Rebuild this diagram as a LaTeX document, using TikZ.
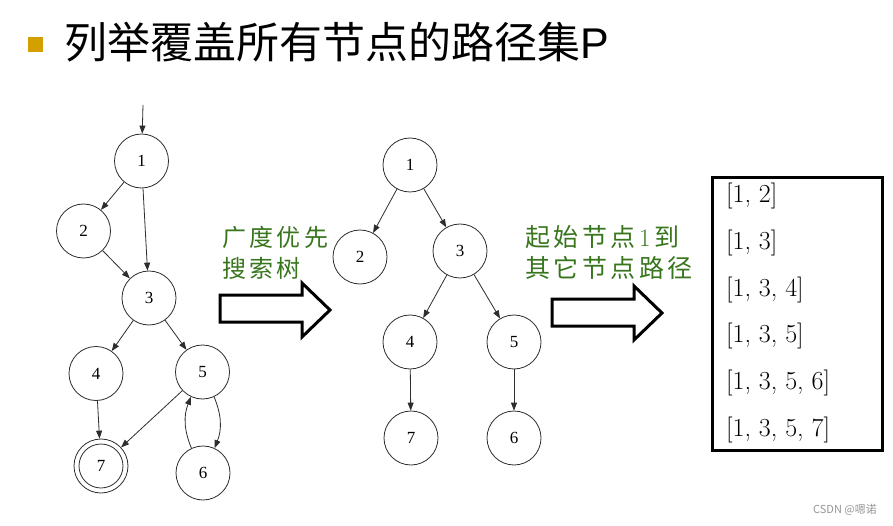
\documentclass[tikz,border=0pt]{standalone}
\usepackage{fontspec}
\usetikzlibrary{arrows.meta}
\newfontfamily\cjk{Noto Sans CJK SC}
\newfontfamily\arialf{Liberation Sans}
\newfontfamily\tnr{Liberation Serif}
\definecolor{bulletgold}{RGB}{212,160,0}
\definecolor{txtgreen}{RGB}{56,118,29}
\definecolor{edgegray}{RGB}{45,45,45}
\definecolor{wmgray}{RGB}{150,150,150}
\ExplSyntaxOn
\NewDocumentCommand \spacedtext { m m }
  {
    \bool_set_true:N \l_tmpa_bool
    \tl_map_inline:nn { #2 }
      {
        \bool_if:NF \l_tmpa_bool { \hspace{#1} }
        \bool_set_false:N \l_tmpa_bool
        ##1
      }
  }
\ExplSyntaxOff
\begin{document}
\begin{tikzpicture}[x=1pt,y=-1pt,
  gnode/.style={circle,draw=edgegray,line width=0.8pt,minimum size=54pt,inner sep=0pt,
    font=\tnr\fontsize{17}{17}\selectfont},
  garrow/.style={draw=edgegray,line width=0.8pt,-{Triangle[length=8pt,width=6pt]}},
  hollow/.style={draw=black,line width=3pt,fill=white,line join=miter},
  greentxt/.style={anchor=west,inner sep=0pt,text=txtgreen},
  pathitem/.style={anchor=west,inner sep=0pt,font=\fontsize{26}{26}\selectfont}]
\useasboundingbox (0,0) rectangle (893,526);
\fill[white] (0,0) rectangle (893,526);

% title
\node[fill=bulletgold,minimum size=15pt,inner sep=0pt] (bullet) at (35,45) {};
\node[anchor=west,inner sep=0pt,font=\cjk\fontsize{43}{43}\selectfont] (title) at (64,42)
  {列举覆盖所有节点的路径集{\arialf P}};

% left graph
\coordinate (entry) at (143,105);
\node[gnode] (a1) at (141.5,161) {1};
\node[gnode] (a2) at (83.5,231) {2};
\node[gnode] (a3) at (149,298) {3};
\node[gnode] (a4) at (96,373.5) {4};
\node[gnode] (a5) at (202.5,372) {5};
\node[gnode] (a7) at (101,466) {7};
\draw[draw=edgegray,line width=0.8pt] (a7.center) circle (22pt);
\node[gnode] (a6) at (203,473) {6};
\draw[garrow] (entry) -- (a1);
\draw[garrow] (a1) -- (a2);
\draw[garrow] (a1) -- (a3);
\draw[garrow] (a2) -- (a3);
\draw[garrow] (a3) -- (a4);
\draw[garrow] (a3) -- (a5);
\draw[garrow] (a4) -- (a7);
\draw[garrow] (a5) -- (a7);
\draw[garrow] (a5.-65) to[bend left=22] (a6.65);
\draw[garrow] (a6.115) to[bend left=22] (a5.245);

% first hollow arrow and label
\draw[hollow] (220,295) -- (302,295) -- (302,283) -- (330,310) -- (302,337) -- (302,322) -- (220,322) -- cycle;
\node[greentxt,font=\cjk\fontsize{24}{24}\selectfont] (lab1a) at (222,237) {\spacedtext{3.3pt}{广度优先}};
\node[greentxt,font=\cjk\fontsize{24}{24}\selectfont] (lab1b) at (222,268) {\spacedtext{3.3pt}{搜索树}};

% BFS tree
\node[gnode] (b1) at (410,165) {1};
\node[gnode] (b2) at (360,257) {2};
\node[gnode] (b3) at (460,251) {3};
\node[gnode] (b4) at (410,342) {4};
\node[gnode] (b5) at (514,342) {5};
\node[gnode] (b7) at (411,438) {7};
\node[gnode] (b6) at (514,438) {6};
\draw[garrow] (b1) -- (b2);
\draw[garrow] (b1) -- (b3);
\draw[garrow] (b3) -- (b4);
\draw[garrow] (b3) -- (b5);
\draw[garrow] (b4) -- (b7);
\draw[garrow] (b5) -- (b6);

% second hollow arrow and label
\draw[hollow] (552,299) -- (634,299) -- (634,286) -- (662,313) -- (634,340) -- (634,326) -- (552,326) -- cycle;
\node[greentxt,font=\cjk\fontsize{25}{25}\selectfont] (lab2a) at (525,237) {\spacedtext{3.5pt}{起始节点{{\rmfamily 1}}到}};
\node[greentxt,font=\cjk\fontsize{25}{25}\selectfont] (lab2b) at (525,268) {\spacedtext{3.5pt}{其它节点路径}};

% path list
\node[draw=black,line width=3pt,minimum width=170pt,minimum height=272pt,inner sep=0pt] (box) at (797,314) {};
\node[pathitem] (p1) at (726,196) {[1, 2]};
\node[pathitem] (p2) at (726,243) {[1, 3]};
\node[pathitem] (p3) at (726,290) {[1, 3, 4]};
\node[pathitem] (p4) at (726,336) {[1, 3, 5]};
\node[pathitem] (p5) at (726,383) {[1, 3, 5, 6]};
\node[pathitem] (p6) at (726,430) {[1, 3, 5, 7]};

% watermark
\node[anchor=east,inner sep=0pt,text=wmgray,font=\cjk\fontsize{11}{11}\selectfont] (wm) at (877,510) {CSDN @嗯诺};
\end{tikzpicture}
\end{document}
